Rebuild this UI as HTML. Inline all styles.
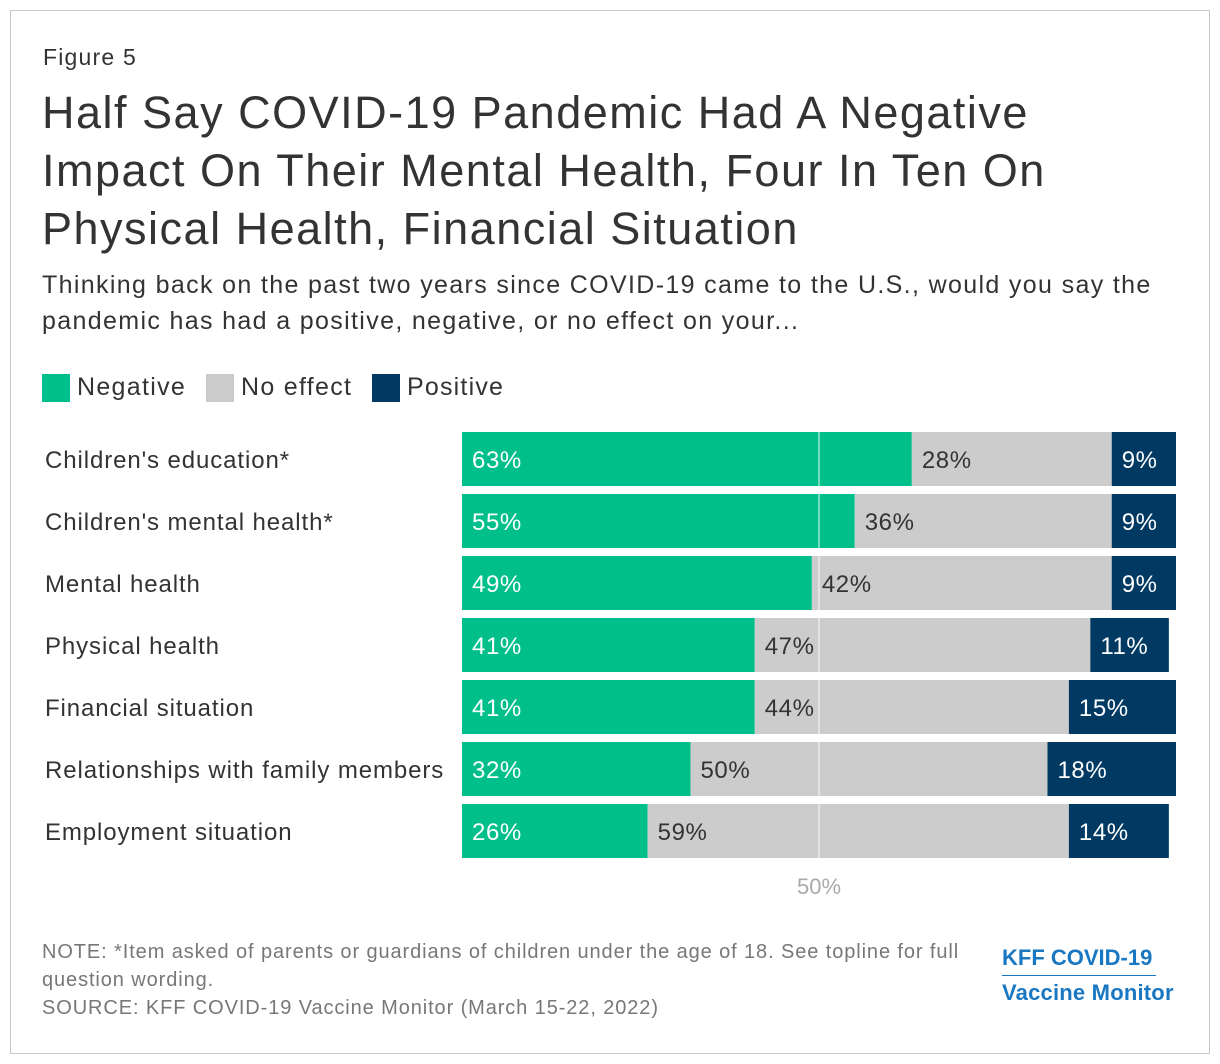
<!DOCTYPE html>
<html><head><meta charset="utf-8"><style>
body{margin:0;width:1220px;height:1064px;background:#fff;font-family:"Liberation Sans",Arial,sans-serif;color:#333;position:relative;overflow:hidden}
.frame{position:absolute;left:10px;top:10px;width:1198px;height:1042px;border:1px solid #c8c8c8}
.abs{position:absolute;white-space:nowrap}
</style></head><body>
<div class="frame"></div>
<div class="abs" style="left:43px;top:44px;font-size:23px;letter-spacing:1.2px;color:#333">Figure 5</div>
<div class="abs" style="left:42px;top:84px;font-size:45px;letter-spacing:1.5px;line-height:58px;color:#333">Half Say COVID-19 Pandemic Had A Negative<br>Impact On Their Mental Health, Four In Ten On<br>Physical Health, Financial Situation</div>
<div class="abs" style="left:42px;top:267px;font-size:25px;letter-spacing:1.35px;line-height:36px;color:#333">Thinking back on the past two years since COVID-19 came to the U.S., would you say the<br>pandemic has had a positive, negative, or no effect on your...</div>
<div>
<div class="abs" style="left:42px;top:374px;width:28px;height:28px;background:#00bf8a"></div>
<div class="abs" style="left:77px;top:373px;font-size:25px;letter-spacing:1.3px">Negative</div>
<div class="abs" style="left:206px;top:374px;width:28px;height:28px;background:#cccccc"></div>
<div class="abs" style="left:241px;top:373px;font-size:25px;letter-spacing:1.3px">No effect</div>
<div class="abs" style="left:372px;top:374px;width:28px;height:28px;background:#003a63"></div>
<div class="abs" style="left:407px;top:373px;font-size:25px;letter-spacing:1.2px">Positive</div>
</div>
<svg class="abs" style="left:0;top:0" width="1220" height="1064" id="chart"></svg>
<div class="abs" style="left:42px;top:938px;font-size:20px;letter-spacing:0.9px;line-height:28px;color:#777">NOTE: *Item asked of parents or guardians of children under the age of 18. See topline for full<br>question wording.<br>SOURCE: KFF COVID-19 Vaccine Monitor (March 15-22, 2022)</div>
<div class="abs" style="left:1002px;top:945px;font-size:22px;font-weight:bold;color:#1a78c2">KFF COVID-19</div>
<div class="abs" style="left:1002px;top:975px;width:154px;height:1px;background:#1a78c2"></div>
<div class="abs" style="left:1002px;top:980px;font-size:22px;font-weight:bold;color:#1a78c2;letter-spacing:0.2px">Vaccine Monitor</div>
<script>
const categories=["Children's education*","Children's mental health*","Mental health","Physical health","Financial situation","Relationships with family members","Employment situation"];
const negative=[63,55,49,41,41,32,26];
const noEffect=[28,36,42,47,44,50,59];
const positive=[9,9,9,11,15,18,14];
const svg=document.getElementById('chart');
const NS='http://www.w3.org/2000/svg';
const x0=462,pxPer=7.14,y0=432,step=62,bh=54;
const x=v=>x0+v*pxPer;
function mk(t,a){const e=document.createElementNS(NS,t);for(const k in a)e.setAttribute(k,a[k]);svg.appendChild(e);return e;}
categories.forEach((c,i)=>{
 const y=y0+i*step;
 const lab=mk('text',{x:45,y:y+36,'font-size':24,fill:'#333','letter-spacing':0.9});lab.textContent=c;
 
 
 const segs=[[negative[i],'#00bf8a','#fff','negative'],[noEffect[i],'#cccccc','#333','no-effect'],[positive[i],'#003a63','#fff','positive']];
 let acc=0;
 segs.forEach(s=>{
  const r=mk('rect',{x:x(acc),y:y,width:s[0]*pxPer,height:bh,fill:s[1]});
  
  
  const t=mk('text',{x:x(acc)+10,y:y+36,'font-size':24,fill:s[2],'letter-spacing':0.6});t.textContent=s[0]+'%';
  
  
  acc+=s[0];
 });
});
const ml=mk('line',{x1:x(50),x2:x(50),y1:y0,y2:y0+6*step+bh,stroke:'#fff','stroke-opacity':0.6,'stroke-width':1.5});


const mt=mk('text',{x:x(50),y:894,'font-size':22,fill:'#aaa','text-anchor':'middle'});mt.textContent='50%';


</script>
</body></html>
